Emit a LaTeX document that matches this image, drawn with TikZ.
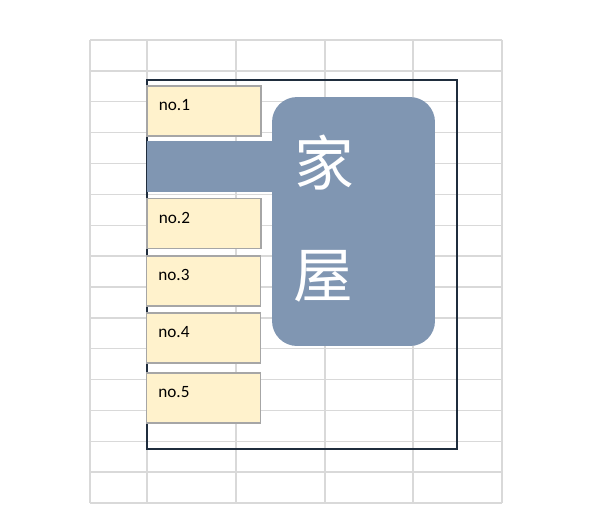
\documentclass[tikz,border=0pt]{standalone}
\usepackage{fontspec}
\setmainfont{Carlito}
\newfontfamily\cjk{Noto Sans CJK SC}
\usepackage{tikz}

\definecolor{gridgray}{RGB}{217,217,217}
\definecolor{boxfill}{RGB}{255,242,204}
\definecolor{boxline}{RGB}{166,166,166}
\definecolor{slate}{RGB}{128,150,178}
\definecolor{frameblue}{RGB}{31,45,61}

\tikzset{
	numbox/.style={draw=boxline, fill=boxfill, line width=0.6pt, minimum width=2.28cm, minimum height=1cm, inner sep=0pt},
	numtext/.style={anchor=north west, font=\fontsize{9.8}{11}\selectfont, inner sep=0pt},
	kanji/.style={text=white, font=\cjk\fontsize{34}{36}\selectfont, inner sep=0pt}
}

\begin{document}
\begin{tikzpicture}[x=0.02cm, y=-0.02cm]
	\useasboundingbox (0,0) rectangle (590,527);
	% sheet grid
	\foreach \r in {0,...,15}
		\draw[gridgray, line width=0.8pt] (90,{40+30.87*\r}) -- (502,{40+30.87*\r});
	\foreach \c in {90,147,236,325,413,502}
		\draw[gridgray, line width=0.8pt] (\c,40) -- (\c,503);
	% outer frame
	\draw[frameblue, line width=0.9pt] (147,80) rectangle (457,449);
	% bar and house block
	\node[fill=slate, minimum width=2.56cm, minimum height=1.02cm, inner sep=0pt] (bar) at (211,166.5) {};
	\node[fill=slate, rounded corners=0.5cm, minimum width=3.26cm, minimum height=4.98cm, inner sep=0pt] (house) at (353.5,221.5) {};
	\node[kanji] (ka) at (324,163) {家};
	\node[kanji] (ya) at (323,276) {屋};
	% numbered boxes
	\node[numbox] (no1) at (204,111) {};
	\node[numbox] (no2) at (204,223.5) {};
	\node[numbox] (no3) at (203.5,281) {};
	\node[numbox] (no4) at (203.5,338) {};
	\node[numbox] (no5) at (203.5,398) {};
	\node[numtext] (t1) at ([xshift=0.24cm, yshift=-0.27cm]no1.north west) {no.1};
	\node[numtext] (t2) at ([xshift=0.24cm, yshift=-0.27cm]no2.north west) {no.2};
	\node[numtext] (t3) at ([xshift=0.24cm, yshift=-0.27cm]no3.north west) {no.3};
	\node[numtext] (t4) at ([xshift=0.24cm, yshift=-0.27cm]no4.north west) {no.4};
	\node[numtext] (t5) at ([xshift=0.24cm, yshift=-0.27cm]no5.north west) {no.5};
\end{tikzpicture}
\end{document}
